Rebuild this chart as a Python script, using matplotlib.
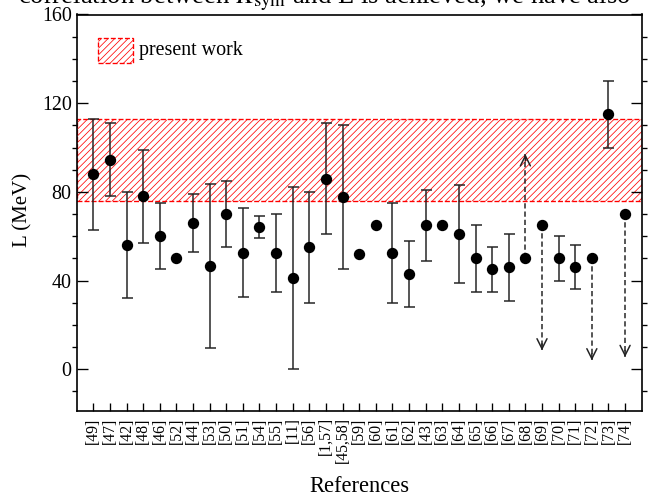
import matplotlib
matplotlib.use("Agg")
import matplotlib.pyplot as plt
from matplotlib.patches import Rectangle
from matplotlib.ticker import MultipleLocator

plt.rcParams['font.family'] = ['Liberation Serif', 'DejaVu Serif']
plt.rcParams['mathtext.fontset'] = 'stix'
plt.rcParams['hatch.linewidth'] = 0.45

# ---- data ----
refs = ["[49]", "[47]", "[42]", "[48]", "[46]", "[52]", "[44]", "[53]", "[50]", "[51]",
        "[54]", "[55]", "[11]", "[56]", "[1,57]", "[45,58]", "[59]", "[60]", "[61]", "[62]",
        "[43]", "[63]", "[64]", "[65]", "[66]", "[67]", "[68]", "[69]", "[70]", "[71]",
        "[72]", "[73]", "[74]"]
L_vals = [88, 94.5, 56, 78, 60, 50, 66, 46.5, 70, 52.5,
          64, 52.5, 41, 55, 86, 77.5, 52, 65, 52.5, 43,
          65, 65, 61, 50, 45, 46, 50, 65, 50, 46,
          50, 115, 70]
err_lo = [25, 16.5, 24, 21, 15, 0, 13, 37, 15, 20,
          5, 17.5, 41, 25, 25, 32.5, 0, 0, 22.5, 15,
          16, 0, 22, 15, 10, 15, 0, 0, 10, 10,
          0, 15, 0]
err_hi = [25, 16.5, 24, 21, 15, 0, 13, 37, 15, 20,
          5, 17.5, 41, 25, 25, 32.5, 0, 0, 22.5, 15,
          16, 0, 22, 15, 10, 15, 0, 0, 10, 10,
          0, 15, 0]
# limits drawn as dashed arrows (1-based reference index, arrow end value)
limit_idx = [27, 28, 31, 33]
limit_to = [97, 8.5, 4, 5.5]
band_lo, band_hi = 76, 113
legend_label = "present work"

# ---- figure ----
DPI = 120
fig = plt.figure(figsize=(655 / DPI, 496 / DPI), dpi=DPI)
ax = fig.add_axes([76.7 / 655, 1 - 410.7 / 496, 565 / 655, 396.2 / 496])

x = list(range(1, len(refs) + 1))

# band
ax.axhspan(band_lo, band_hi, facecolor='none', edgecolor='red', hatch='//////',
           linestyle='--', linewidth=0.8, zorder=1)

# error bars
ex, ey, elo, ehi = [], [], [], []
for xi, v, lo, hi in zip(x, L_vals, err_lo, err_hi):
    if lo > 0 or hi > 0:
        ex.append(xi); ey.append(v); elo.append(lo); ehi.append(hi)
ax.errorbar(ex, ey, yerr=[elo, ehi], fmt='none', ecolor='#222222',
            elinewidth=0.9, capsize=3.3, capthick=0.9, zorder=3)

# points
ax.plot(x, L_vals, 'o', color='black', markersize=5.8, zorder=4, linestyle='none')

# limit arrows
for idx, to in zip(limit_idx, limit_to):
    v = L_vals[idx - 1]
    ax.plot([idx, idx], [v, to], linestyle=(0, (3.5, 2)), color='#222222',
            linewidth=0.9, zorder=2)
    d = 1 if to > v else -1
    ax.annotate('', xy=(idx, to), xytext=(idx, to - d * 3),
                arrowprops=dict(arrowstyle='->', color='#222222', lw=0.9,
                                shrinkA=0, shrinkB=0, mutation_scale=15),
                zorder=2)

ax.set_xlim(0, 34)
ax.set_ylim(-18.7, 160)

ax.set_xticks(x)
ax.set_xticklabels(refs, rotation=90, fontsize=9.5)
ax.yaxis.set_major_locator(MultipleLocator(40))
ax.yaxis.set_minor_locator(MultipleLocator(10))
ax.tick_params(axis='both', direction='in')
ax.tick_params(axis='x', length=4.8, width=0.8, pad=4.0, top=False)
ax.tick_params(axis='y', which='major', length=6.4, width=0.8, labelsize=12,
               pad=3, right=True)
ax.tick_params(axis='y', which='minor', length=3.2, width=0.8, right=True)
for s in ax.spines.values():
    s.set_linewidth(1.0)

ax.set_ylabel("L (MeV)", fontsize=12.5, va='center')
ax.yaxis.set_label_coords(-0.095, 0.507)
ax.set_xlabel("References", fontsize=13.5, va='baseline')
ax.xaxis.set_label_coords(0.5, -0.205)

# legend
ax.add_patch(Rectangle((0.0382, 0.8768), 0.062, 0.0631, transform=ax.transAxes,
                       facecolor='none', edgecolor='red', hatch='//////',
                       linestyle='--', linewidth=0.8, zorder=5))
ax.text(0.1108, 0.908, legend_label, transform=ax.transAxes, fontsize=12,
        va='center', ha='left')

# clipped page text at top
fig.text(18 / 655, 1 - 3 / 496,
         r"correlation between $K_{\mathrm{sym}}$ and L is achieved, we have also",
         fontsize=16, va='baseline', ha='left')

fig.savefig("out.png", dpi=DPI)
